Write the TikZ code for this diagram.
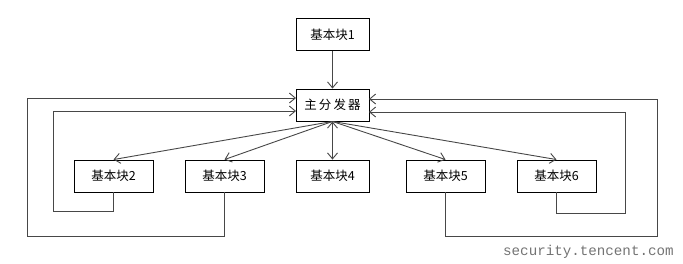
\documentclass[tikz,border=0pt]{standalone}
\usepackage{fontspec}
\setmainfont{Noto Sans CJK SC}
\newfontfamily\wmfont{Liberation Mono}
\usetikzlibrary{arrows.meta}
\begin{document}
\begin{tikzpicture}[x=1pt,y=-1pt,
  blk/.style={draw=black,line width=0.9pt,fill=white,minimum height=32pt,inner sep=0pt,font=\fontsize{12.5}{14}\selectfont},
  wide/.style={minimum width=79pt},
  narrow/.style={minimum width=73pt},
  arr/.style={draw=black!72,line width=0.9pt,-{Straight Barb[length=6pt,width=10pt]}},
  dbl/.style={draw=black!72,line width=0.9pt,{Straight Barb[length=6pt,width=10pt]}-{Straight Barb[length=6pt,width=10pt]}},
  wire/.style={draw=black!72,line width=0.9pt}]
\useasboundingbox (0,0) rectangle (683,263);
\node[blk,narrow] (b1) at (332.5,34.5) {基本块1};
\node[blk,narrow] (main) at (332.5,105) {主\,分\,发\,器};
\node[blk,wide] (b2) at (113.5,176) {基本块2};
\node[blk,wide] (b3) at (224.5,176) {基本块3};
\node[blk,narrow] (b4) at (332.5,176) {基本块4};
\node[blk,wide] (b5) at (445.5,176) {基本块5};
\node[blk,wide] (b6) at (556.5,176) {基本块6};
\draw[arr] (b1) -- (main);
\draw[arr] (main.south) -- (b2.north);
\draw[arr] (main.south) -- (b3.north);
\draw[dbl] (main.south) -- (b4.north);
\draw[arr] (main.south) -- (b5.north);
\draw[arr] (main.south) -- (b6.north);
\coordinate (mw1) at (296,98);
\coordinate (mw2) at (296,111);
\coordinate (me1) at (369,99);
\coordinate (me2) at (369,112);
\draw[arr] (b2.south) |- (53,211) |- (mw2);
\draw[arr] (b3.south) |- (27,236) |- (mw1);
\draw[arr] (b6.south) |- (625,213) |- (me2);
\draw[arr] (b5.south) |- (657,236) |- (me1);
\node[anchor=base west,inner sep=0pt,text=black!55,font=\wmfont\fontsize{14.2}{16}\selectfont] (wm) at (503,255) {security.tencent.com};
\end{tikzpicture}
\end{document}
